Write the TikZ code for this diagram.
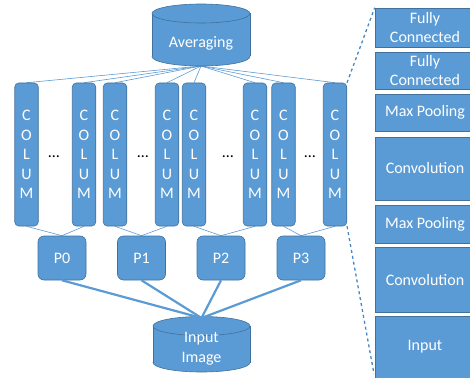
\documentclass[tikz,border=0pt]{standalone}
\usepackage{fontspec}
\setmainfont{Carlito}
\usetikzlibrary{backgrounds}
\definecolor{bfill}{HTML}{5B9BD5}
\definecolor{bline}{HTML}{41719C}
\definecolor{dashc}{HTML}{4A86C5}
\newcommand{\mycyl}[5]{%
  \filldraw[fill=bfill,draw=bline,line width=0.6pt] (#1,#3) ellipse [x radius=#4, y radius=#5];
  \fill[bfill] ({#1-#4},#2) rectangle ({#1+#4},#3);
  \draw[bline,line width=0.6pt] ({#1-#4},#2) -- ({#1-#4},#3) ({#1+#4},#2) -- ({#1+#4},#3);
  \filldraw[fill=bfill,draw=bline,line width=0.6pt] (#1,#2) ellipse [x radius=#4, y radius=#5];
}
\begin{document}
\begin{tikzpicture}[x=1pt,y=-1pt,
  every node/.style={font=\fontsize{16}{19.5}\selectfont, text=white},
  colbox/.style={rectangle, rounded corners=4pt, fill=bfill, draw=bline, line width=0.6pt,
    minimum width=23.5pt, minimum height=143pt, inner sep=0pt, align=center},
  pbox/.style={rectangle, rounded corners=6pt, fill=bfill, draw=bline, line width=0.6pt,
    minimum width=48pt, minimum height=44pt, inner sep=0pt},
  layerbox/.style={rectangle, fill=bfill, draw=bline, line width=0.6pt,
    minimum width=100pt, inner sep=0pt, align=center},
  thinline/.style={bfill, line width=0.6pt},
  thickline/.style={bfill, line width=2.2pt},
  dotnode/.style={text=black, inner sep=0pt}]
\useasboundingbox (0,0) rectangle (470,377);

% cylinders
\mycyl{201}{13.5}{56.5}{49}{9.5}
\node (avg) at (201,43) {Averaging};
\coordinate (avgb) at (201,66);

\mycyl{201.5}{326}{362.5}{48.5}{9.5}
\node[align=center, inner sep=0pt] (inp) at (201.5,348.5) {Input\\Image};
\coordinate (inpt) at (201.5,318);

% columns
\foreach \i/\x in {1/26.5, 2/84, 3/115, 4/167, 5/194, 6/255, 7/283.5, 8/335} {
  \node[colbox] (c\i) at (\x,154.5) {C\\O\\L\\U\\M};
}
% dots
\node[dotnode] (d1) at (54,157) {\dots};
\node[dotnode] (d2) at (143,157) {\dots};
\node[dotnode] (d3) at (228,157) {\dots};
\node[dotnode] (d4) at (310,157) {\dots};

% P boxes
\node[pbox] (p0) at (62,258) {P0};
\node[pbox] (p1) at (141.5,258) {P1};
\node[pbox] (p2) at (221,258) {P2};
\node[pbox] (p3) at (301,258) {P3};

% layers
\node[layerbox, minimum height=39pt] (l1) at (425,27.5) {Fully\\Connected};
\node[layerbox, minimum height=37pt] (l2) at (425,70.5) {Fully\\Connected};
\node[layerbox, minimum height=37pt] (l3) at (425,112.5) {Max Pooling};
\node[layerbox, minimum height=63pt] (l4) at (425,168.5) {Convolution};
\node[layerbox, minimum height=38pt] (l5) at (425,224) {Max Pooling};
\node[layerbox, minimum height=65pt] (l6) at (425,279.5) {Convolution};
\node[layerbox, minimum height=62pt] (l7) at (425,347) {Input};
\coordinate (dend) at (374,374);

\begin{scope}[on background layer]
  \foreach \i in {1,...,8} { \draw[thinline] (avgb) -- (c\i.north); }
  \draw[thinline] (c1.south) -- (p0.north);
  \draw[thinline] (c2.south) -- (p0.north);
  \draw[thinline] (c3.south) -- (p1.north);
  \draw[thinline] (c4.south) -- (p1.north);
  \draw[thinline] (c5.south) -- (p2.north);
  \draw[thinline] (c6.south) -- (p2.north);
  \draw[thinline] (c7.south) -- (p3.north);
  \draw[thinline] (c8.south) -- (p3.north);
\end{scope}
\foreach \k in {0,...,3} { \draw[thickline] (p\k.south) -- (inpt); }
\draw[dashc, dashed, line width=1.3pt] (c8.north east) -- (l1.north west);
\draw[dashc, dashed, line width=1.3pt] (c8.south east) -- (dend);
\end{tikzpicture}
\end{document}
